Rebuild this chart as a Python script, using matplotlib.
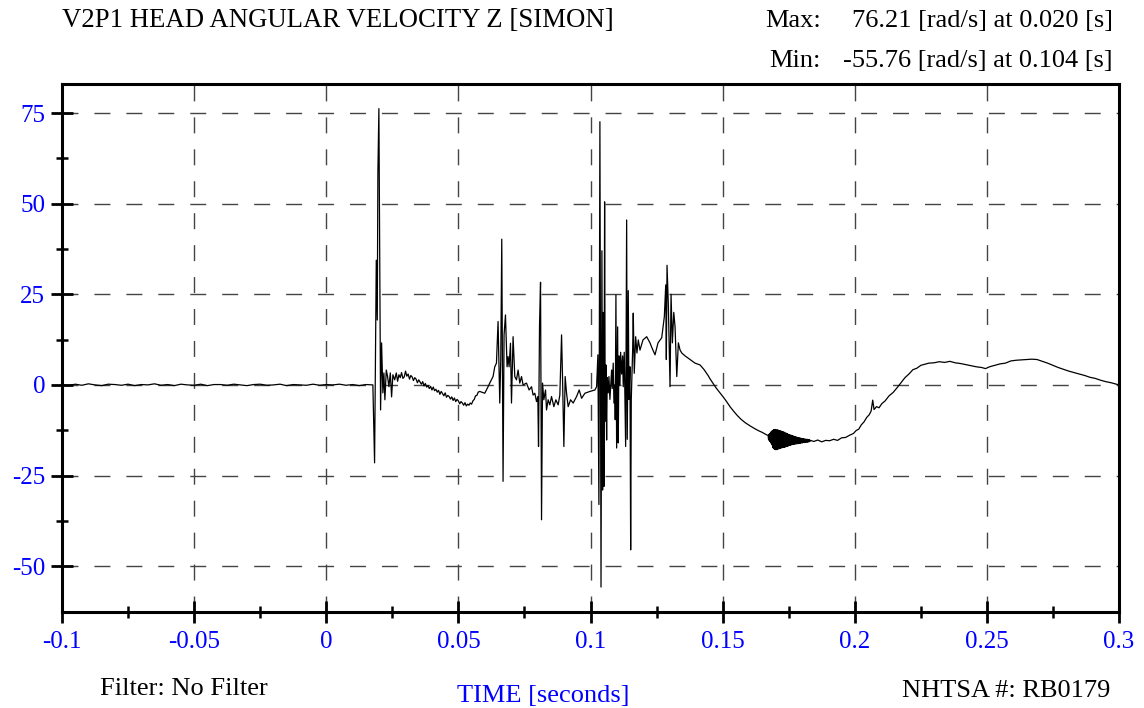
import matplotlib
matplotlib.use('Agg')
import matplotlib.pyplot as plt
from matplotlib.ticker import FixedLocator
import numpy as np

plt.rcParams['font.family'] = ['Liberation Serif', 'DejaVu Serif']

# ---------------- data ----------------
title = "V2P1 HEAD ANGULAR VELOCITY Z [SIMON]"
max_label, max_text = "Max:", "76.21 [rad/s] at 0.020 [s]"
min_label, min_text = "Min:", "-55.76 [rad/s] at 0.104 [s]"
filter_text = "Filter: No Filter"
xlabel_text = "TIME [seconds]"
nhtsa_text = "NHTSA #: RB0179"

x_ticks = [-0.1, -0.05, 0, 0.05, 0.1, 0.15, 0.2, 0.25, 0.3]
x_tick_labels = ["-0.1", "-0.05", "0", "0.05", "0.1", "0.15", "0.2", "0.25", "0.3"]
x_minor = [-0.075, -0.025, 0.025, 0.075, 0.125, 0.175, 0.225, 0.275]
y_ticks = [-50, -25, 0, 25, 50, 75]
y_tick_labels = ["-50", "-25", "0", "25", "50", "75"]
y_minor = [-37.5, -12.5, 12.5, 37.5, 62.5]

# pre-event baseline
pre_t = [-0.1, -0.0975, -0.095, -0.0925, -0.09, -0.0875, -0.085, -0.0825, -0.08, -0.0775,
         -0.075, -0.0725, -0.07, -0.0675, -0.065, -0.0625, -0.06, -0.0575, -0.055, -0.0525,
         -0.05, -0.0475, -0.045, -0.0425, -0.04, -0.0375, -0.035, -0.0325, -0.03, -0.0275,
         -0.025, -0.0225, -0.02, -0.0175, -0.015, -0.0125, -0.01, -0.0075, -0.005, -0.0025,
         0.0, 0.0025, 0.005, 0.0075, 0.01, 0.0125, 0.015]
pre_v = [0.1, -0.2, 0.2, -0.1, 0.3, 0.0, -0.2, 0.2, 0.1, -0.1,
         0.2, -0.2, 0.1, 0.0, 0.3, -0.1, 0.1, -0.2, 0.2, 0.0,
         -0.1, 0.2, -0.2, 0.1, 0.1, -0.1, 0.2, 0.0, -0.2, 0.1,
         0.2, -0.1, 0.0, 0.2, -0.2, 0.1, 0.0, -0.1, 0.2, -0.1,
         0.1, 0.0, 0.2, -0.1, 0.1, -0.2, 0.1]

# first impact
hit1_t = [0.01764, 0.01829, 0.01893, 0.01931, 0.01954, 0.01992, 0.02018, 0.02056, 0.02094, 0.02143,
          0.02181, 0.02219, 0.02272, 0.02321, 0.02371, 0.02424, 0.02473, 0.02522]
hit1_v = [0.0, -21.5, 34.4, 17.9, 58.4, 76.21, 41.9, -6.9, 11.6, -2.2,
          3.3, -4.1, 4.1, 2.3, -0.5, 3.3, -3.3, 2.8]

# slow drift between impacts
drift_t = [0.0259, 0.0265, 0.0270, 0.0275, 0.0280, 0.0285, 0.0290, 0.0295, 0.0300, 0.0305,
           0.0310, 0.0315, 0.0320, 0.0325, 0.0330, 0.0335, 0.0340, 0.0345, 0.0350, 0.0355,
           0.0360, 0.0365, 0.0370, 0.0375, 0.0380, 0.0385, 0.0390, 0.0395, 0.0400, 0.0405,
           0.0410, 0.0415, 0.0420, 0.0425, 0.0430, 0.0435, 0.0440, 0.0445, 0.0450, 0.0455,
           0.0460, 0.0465, 0.0470, 0.0475, 0.0480, 0.0485, 0.0490, 0.0495, 0.0500, 0.0505,
           0.0510, 0.0515, 0.0520, 0.0525, 0.0530, 0.0535, 0.0540, 0.0545, 0.0550, 0.0555,
           0.0560, 0.0565, 0.0570, 0.0575]
drift_v = [1.4, 3.3, 1.0, 2.8, 2.0, 3.4, 1.8, 2.2, 3.8, 2.4,
           3.0, 1.6, 2.6, 2.2, 1.2, 2.0, 1.6, 0.6, 1.4, 0.8,
           0.2, 0.9, -0.3, 0.4, -0.6, -0.2, -1.0, -0.4, -1.4, -0.6,
           -1.6, -1.2, -2.0, -1.5, -2.6, -1.8, -2.4, -3.0, -2.2, -3.4,
           -2.9, -3.2, -3.9, -3.3, -4.3, -3.6, -4.6, -4.0, -4.4, -5.2,
           -4.6, -5.0, -5.6, -4.9, -5.8, -5.3, -5.6, -5.0, -5.3, -4.4,
           -4.0, -3.0, -2.9, -2.0]

# later impacts
event_t = [0.05808, 0.05998,
           0.06123, 0.06187, 0.06312, 0.06377, 0.06441, 0.06502, 0.06566, 0.06604, 0.06642, 0.06691,
           0.06729, 0.06782, 0.06843, 0.06881, 0.06919, 0.06972, 0.07010, 0.07070, 0.07135, 0.07199,
           0.07260, 0.07324, 0.07389, 0.07449, 0.07578, 0.07677, 0.07768, 0.07828, 0.07893, 0.07957,
           0.08006, 0.08033, 0.08071, 0.08109, 0.08147, 0.08185, 0.08234, 0.08298, 0.08336, 0.08397,
           0.08461, 0.08525, 0.08613, 0.08689, 0.08776, 0.08840, 0.08905, 0.08943, 0.08992, 0.09041,
           0.09094, 0.09155, 0.09246, 0.09344, 0.09473, 0.09572, 0.09663, 0.09788, 0.09977, 0.10167,
           0.10231, 0.10280, 0.10318, 0.10356, 0.10383, 0.10398, 0.10432, 0.10458, 0.10481, 0.10508,
           0.10534, 0.10557, 0.10583, 0.10610, 0.10633, 0.10671, 0.10697, 0.10735, 0.10799, 0.10822,
           0.10860, 0.10887, 0.10925, 0.10936, 0.10962, 0.10989, 0.11027, 0.11050, 0.11076, 0.11114,
           0.11140, 0.11178, 0.11216, 0.11239, 0.11277, 0.11330, 0.11368, 0.11391, 0.11429, 0.11455,
           0.11493, 0.11520, 0.11543, 0.11596, 0.11618, 0.11656, 0.11709, 0.11758, 0.11808, 0.11872,
           0.11986, 0.12126, 0.12251, 0.12327, 0.12441, 0.12555, 0.12695, 0.12794, 0.12847, 0.12870,
           0.12896, 0.12946, 0.13010, 0.13048, 0.13098, 0.13151, 0.13200, 0.13265, 0.13325, 0.13390,
           0.13454, 0.13579, 0.13768, 0.13958, 0.14147]
event_v = [-1.8, -2.3,
           -0.5, 0.5, 2.3, 5.0, 6.0, 17.5, -5.0, 6.9, 40.2, -26.6,
           13.8, 19.3, 5.0, 7.8, 5.0, 11.5, -5.0, 13.3, 2.3, 1.4,
           4.1, 0.5, 2.3, 0.0, 0.5, -1.4, -0.5, -2.8, -2.3, -4.6,
           -3.2, -17.0, 16.5, 28.3, -37.2, 0.5, -4.1, -1.4, -6.9, -4.1,
           -5.5, -3.2, -6.0, -4.1, -5.5, -2.8, 13.8, 1.4, -17.0, 2.3,
           -2.3, -6.0, -4.1, -5.0, -3.2, -1.4, -3.7, -2.3, -1.8, -1.4,
           -0.5, 8.3, -33.0, 72.6, -10.0, -55.76, 37.0, -29.0, 20.0, -28.0,
           50.5, -10.0, 5.5, -15.2, 2.0, -2.2, 2.3, -4.0, 4.1, -1.0,
           6.0, -5.0, 0.0, -9.6, 24.8, -17.4, 16.0, -16.0, 8.0, 0.0,
           9.0, 3.0, 8.0, -0.5, 9.0, -17.0, 45.5, -15.0, 26.0, -4.0,
           5.0, -45.5, -4.0, 10.0, 19.8, 3.2, 13.3, 8.8, 12.4, 9.6,
           12.4, 13.3, 11.6, 10.2, 8.3, 11.6, 13.0, 18.8, 27.6, 7.0,
           33.0, 22.0, -0.5, 25.0, 11.6, 20.0, 16.0, 2.3, 11.6, 9.6,
           8.8, 8.0, 7.0, 6.0, 5.5]

# descent toward the minimum plateau
desc_t = [0.1430, 0.1445, 0.1453, 0.1465, 0.1475, 0.1490, 0.1503, 0.1515, 0.1528, 0.1541,
          0.1555, 0.1570, 0.1585, 0.1604, 0.1620, 0.1635, 0.1650, 0.1667]
desc_v = [4.2, 2.6, 1.6, 0.3, -0.8, -2.2, -3.4, -4.6, -6.0, -7.2,
          -8.4, -9.5, -10.4, -11.3, -12.0, -12.6, -13.1, -13.8]

# high-frequency ringing band near the minimum plateau
band_t = [0.1672, 0.1674, 0.1676, 0.1678, 0.1680, 0.1682, 0.1684, 0.1686, 0.1688, 0.1690,
          0.1692, 0.1694, 0.1696, 0.1698, 0.1700, 0.1702, 0.1704, 0.1706, 0.1708, 0.1710,
          0.1712, 0.1714, 0.1716, 0.1718, 0.1720, 0.1722, 0.1724, 0.1726, 0.1728, 0.1730,
          0.1732, 0.1734, 0.1736, 0.1738, 0.1740, 0.1742, 0.1744, 0.1746, 0.1748, 0.1750,
          0.1752, 0.1754, 0.1756, 0.1758, 0.1760, 0.1762, 0.1764, 0.1766, 0.1768, 0.1770,
          0.1772, 0.1774, 0.1776, 0.1778, 0.1780, 0.1782, 0.1784, 0.1786, 0.1788, 0.1790,
          0.1792, 0.1794, 0.1796, 0.1798, 0.1800, 0.1802, 0.1804, 0.1806, 0.1808, 0.1810,
          0.1812, 0.1814, 0.1816, 0.1818, 0.1820, 0.1822, 0.1824, 0.1826, 0.1828, 0.1830,
          0.1832]
band_v = [-13.9, -15.2, -13.6, -15.6, -13.3, -16.0, -12.9, -16.5, -12.6, -17.3,
          -12.4, -17.6, -12.3, -17.8, -12.3, -17.9, -12.4, -17.8, -12.4, -17.7,
          -12.5, -17.6, -12.6, -17.5, -12.7, -17.4, -12.8, -17.3, -12.9, -17.2,
          -13.0, -17.2, -13.2, -17.1, -13.3, -17.0, -13.4, -16.9, -13.6, -16.8,
          -13.7, -16.7, -13.8, -16.6, -13.9, -16.5, -14.0, -16.4, -14.1, -16.4,
          -14.2, -16.3, -14.3, -16.3, -14.4, -16.2, -14.5, -16.2, -14.6, -16.1,
          -14.6, -16.1, -14.7, -16.0, -14.8, -16.0, -14.8, -15.9, -14.9, -15.9,
          -14.9, -15.8, -15.0, -15.8, -15.0, -15.8, -15.1, -15.7, -15.1, -15.6,
          -15.3]

# rebound and late response
late_t = [0.1845, 0.1860, 0.1875, 0.1890, 0.1905, 0.1920, 0.1935, 0.1950, 0.1965, 0.1980,
          0.1995, 0.2005, 0.2015, 0.2025, 0.2035, 0.2045, 0.2055, 0.2062, 0.2068, 0.2073,
          0.2082, 0.2092, 0.2102, 0.2115, 0.2130, 0.2145, 0.2160, 0.2175, 0.2190, 0.2205,
          0.2220, 0.2235, 0.2250, 0.2265, 0.2280, 0.2300, 0.2320, 0.2340, 0.2360, 0.2380,
          0.2400, 0.2420, 0.2440, 0.2460, 0.2480, 0.2495, 0.2510, 0.2530, 0.2550, 0.2570,
          0.2590, 0.2610, 0.2630, 0.2650, 0.2670, 0.2690, 0.2710, 0.2730, 0.2750, 0.2770,
          0.2790, 0.2810, 0.2830, 0.2850, 0.2870, 0.2890, 0.2910, 0.2930, 0.2950, 0.2970,
          0.2985, 0.3]
late_v = [-15.6, -15.2, -15.7, -15.3, -15.4, -15.0, -15.3, -14.6, -14.5, -13.9,
          -13.4, -12.6, -12.2, -11.0, -10.2, -9.0, -8.2, -7.2, -4.2, -6.8,
          -6.0, -6.3, -5.2, -4.4, -3.0, -2.1, -0.8, 0.6, 2.0, 3.0,
          4.2, 4.6, 5.4, 5.7, 6.0, 6.1, 6.4, 6.2, 6.5, 6.1,
          5.9, 5.6, 5.3, 5.0, 4.8, 4.5, 5.0, 5.4, 5.8, 6.0,
          6.6, 6.8, 6.9, 7.0, 7.1, 7.0, 6.5, 6.0, 5.4, 4.8,
          4.3, 3.8, 3.4, 3.0, 2.6, 2.1, 1.8, 1.3, 0.9, 0.6,
          0.3, 0.0]

time = np.concatenate([pre_t, hit1_t, drift_t, event_t, desc_t, band_t, late_t])
velocity = np.concatenate([pre_v, hit1_v, drift_v, event_v, desc_v, band_v, late_v])

# ---------------- figure ----------------
W, H = 1144, 708
fig = plt.figure(figsize=(W / 100, H / 100), dpi=100)
ax_left, ax_right, ax_top, ax_bottom = 62, 1119, 84, 611.5
ax = fig.add_axes([ax_left / W, 1 - ax_bottom / H,
                   (ax_right - ax_left) / W, (ax_bottom - ax_top) / H])

ax.plot(time, velocity, color='black', lw=0.9, zorder=3)
ax.set_xlim(-0.1, 0.3)
ax.set_ylim(-62.5, 83)

ax.set_xticks(x_ticks)
ax.set_xticklabels(x_tick_labels)
ax.set_yticks(y_ticks)
ax.set_yticklabels(y_tick_labels)
ax.xaxis.set_minor_locator(FixedLocator(x_minor))
ax.yaxis.set_minor_locator(FixedLocator(y_minor))

ax.tick_params(which='major', direction='inout', length=16, width=2.0,
               color='black', labelcolor='#0000FF', labelsize=18)
ax.tick_params(axis='x', which='major', pad=6)
ax.tick_params(axis='y', which='major', pad=4)
ax.tick_params(which='minor', direction='inout', length=8.4, width=1.8, color='black')

for s in ax.spines.values():
    s.set_linewidth(2.2)
    s.set_color('black')
    s.set_zorder(4)

ax.grid(True, which='major', color='#444444', lw=1.0, linestyle=(0, (11.5, 11.5)), zorder=1)
ax.set_axisbelow(True)

fs = 19
def ftext(x, y, s, size=fs, **kw):
    fig.text(x / W, 1 - y / H, s, fontsize=size, **kw)

ftext(62, 27, title, size=19.3, ha='left', va='baseline', color='black')
ftext(821, 27, max_label, ha='right', va='baseline', color='black')
ftext(1113, 27, max_text, ha='right', va='baseline', color='black')
ftext(821, 67, min_label, ha='right', va='baseline', color='black')
ftext(1113, 67, min_text, ha='right', va='baseline', color='black')
ftext(100, 695, filter_text, ha='left', va='baseline', color='black')
ftext(543, 702, xlabel_text, ha='center', va='baseline', color='#0000FF')
ftext(1110, 697, nhtsa_text, ha='right', va='baseline', color='black')

fig.savefig('out.png', dpi=100)
